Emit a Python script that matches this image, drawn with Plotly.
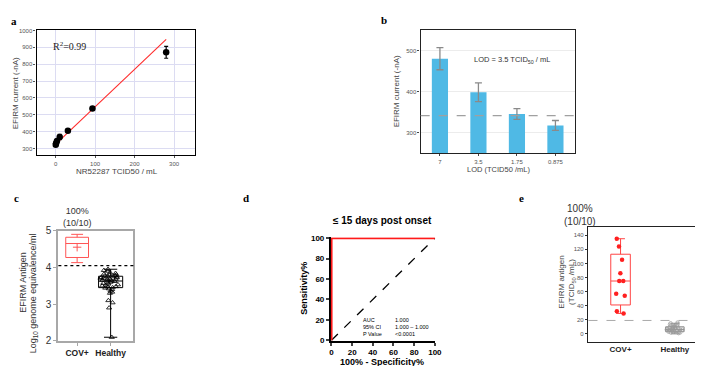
import plotly.graph_objects as go

W, H = 703, 366
def px(x): return x / W
def py(y): return 1 - y / H

SANS = "Liberation Sans, Arial, sans-serif"
SERIF = "Liberation Serif, Times New Roman, serif"

# ---------------- data ----------------
# Panel a: calibration
conc_a = [0.38, 1.15, 3.46, 10.4, 31.1, 93.3, 280]
current_a = [322, 331, 344, 368, 405, 537, 870]
err_a = [6, 6, 8, 15, 8, 8, 35]
fit_slope = 2.22
fit_intercept = 325
r2_label = "R<sup>2</sup>=0.99"

# Panel b: LOD bars
lod_labels = ["7", "3.5", "1.75", "0.875"]
lod_current = [481, 399, 346, 318]
lod_err = [27, 23, 13, 12]
lod_threshold = 342

# Panel c: log10 genome equivalence
c_cats = ["COV+", "Healthy"]
c_cov_q = [4.27, 4.65, 4.82]          # q1, median, q3
c_cov_fence = [4.13, 4.90]
c_cov_mean = 4.55
c_healthy_q = [3.45, 3.63, 3.76]
c_healthy_fence = [2.10, 3.95]
c_healthy_pts = [3.95, 3.92, 3.90, 3.86, 3.84, 3.82, 3.80, 3.80, 3.78, 3.77,
                 3.76, 3.75, 3.74, 3.73, 3.72, 3.71, 3.70, 3.69, 3.68, 3.67,
                 3.66, 3.65, 3.64, 3.63, 3.62, 3.60, 3.58, 3.57, 3.55, 3.53,
                 3.52, 3.50, 3.48, 3.47, 3.45, 3.44, 3.42, 3.40, 3.36, 3.33,
                 3.30, 3.10, 3.04, 2.90, 2.10]
c_cutoff = 4.05

# Panel d: ROC
roc_fpr = [0, 0, 100]
roc_tpr = [0, 100, 100]
chance_x = [0, 100]
chance_y = [0, 100]
roc_ticks = [0, 20, 40, 60, 80, 100]
roc_stat_names = ["AUC", "95% CI", "P Value"]
roc_stat_vals = ["1.000", "1.000 – 1.000", "<0.0001"]

# Panel e: TCID50 antigen
e_cats = ["COV+", "Healthy"]
e_cov_pts = [135, 124, 105, 86, 75, 75, 57, 54, 32, 29]
e_cov_q = [41, 75, 113]
e_cov_fence = [29, 135]
e_healthy_pts = [1, 2, 2, 3, 3, 3, 4, 4, 4, 5, 5, 5, 6, 6, 6, 6, 7, 7, 7, 8,
                 8, 8, 9, 9, 10, 10, 11, 11, 12, 13, 14, 15, 16]
e_healthy_q = [3, 6, 10]
e_healthy_fence = [0, 15]
e_cutoff = 19

# ---------------- figure ----------------
fig = go.Figure()

# Panel a
fig.add_trace(go.Scatter(
    x=[min(conc_a), max(conc_a)],
    y=[fit_intercept + fit_slope * min(conc_a), fit_intercept + fit_slope * max(conc_a)],
    mode="lines", line=dict(color="#ff2a2a", width=1.1),
    xaxis="x", yaxis="y", showlegend=False))
fig.add_trace(go.Scatter(
    x=conc_a, y=current_a, mode="markers",
    marker=dict(color="black", size=6.5),
    error_y=dict(type="data", array=err_a, color="black", thickness=1.2, width=2),
    xaxis="x", yaxis="y", showlegend=False))

# Panel b
fig.add_trace(go.Bar(
    x=lod_labels, y=lod_current, width=0.42,
    marker=dict(color="#4fb9e5", line=dict(width=0)),
    error_y=dict(type="data", array=lod_err, color="#8a8a8a", thickness=1.3, width=3.5),
    xaxis="x2", yaxis="y2", showlegend=False))

# Panel c
fig.add_trace(go.Box(
    x=[0], q1=[c_cov_q[0]], median=[c_cov_q[1]], q3=[c_cov_q[2]],
    lowerfence=[c_cov_fence[0]], upperfence=[c_cov_fence[1]],
    width=0.68, whiskerwidth=0.52, boxpoints=False,
    line=dict(color="#ff5555", width=1), fillcolor="rgba(0,0,0,0)",
    xaxis="x3", yaxis="y3", showlegend=False))
fig.add_trace(go.Scatter(
    x=[0], y=[c_cov_mean], mode="markers",
    marker=dict(symbol="cross-thin", size=6, line=dict(color="#ff5555", width=1)),
    xaxis="x3", yaxis="y3", showlegend=False))
fig.add_trace(go.Box(
    x=[1], q1=[c_healthy_q[0]], median=[c_healthy_q[1]], q3=[c_healthy_q[2]],
    lowerfence=[c_healthy_fence[0]], upperfence=[c_healthy_fence[1]],
    width=0.72, whiskerwidth=0.55, boxpoints=False,
    line=dict(color="black", width=1), fillcolor="rgba(0,0,0,0)",
    xaxis="x3", yaxis="y3", showlegend=False))
fig.add_trace(go.Box(
    x=[1] * len(c_healthy_pts), y=c_healthy_pts, boxpoints="all", jitter=0.9,
    pointpos=0, width=0.72, line=dict(width=0), fillcolor="rgba(0,0,0,0)",
    marker=dict(symbol="triangle-up-open", size=4.5, color="black",
                line=dict(width=0.8, color="black")),
    xaxis="x3", yaxis="y3", showlegend=False))

# Panel d
fig.add_trace(go.Scatter(
    x=chance_x, y=chance_y, mode="lines",
    line=dict(color="black", width=1.3, dash="dash"),
    xaxis="x4", yaxis="y4", showlegend=False))
fig.add_trace(go.Scatter(
    x=roc_fpr, y=roc_tpr, mode="lines",
    line=dict(color="#ff1a1a", width=2.2),
    xaxis="x4", yaxis="y4", showlegend=False))

# Panel e
fig.add_trace(go.Box(
    x=[0], q1=[e_cov_q[0]], median=[e_cov_q[1]], q3=[e_cov_q[2]],
    lowerfence=[e_cov_fence[0]], upperfence=[e_cov_fence[1]],
    width=0.36, whiskerwidth=0.45, boxpoints=False,
    line=dict(color="#ff4444", width=1), fillcolor="rgba(0,0,0,0)",
    xaxis="x5", yaxis="y5", showlegend=False))
fig.add_trace(go.Box(
    x=[0] * len(e_cov_pts), y=e_cov_pts, boxpoints="all", jitter=0.6,
    pointpos=0, width=0.36, line=dict(width=0), fillcolor="rgba(0,0,0,0)",
    marker=dict(symbol="circle", size=4.5, color="#ff2020"),
    xaxis="x5", yaxis="y5", showlegend=False))
fig.add_trace(go.Box(
    x=[1], q1=[e_healthy_q[0]], median=[e_healthy_q[1]], q3=[e_healthy_q[2]],
    lowerfence=[e_healthy_fence[0]], upperfence=[e_healthy_fence[1]],
    width=0.34, whiskerwidth=0.45, boxpoints=False,
    line=dict(color="#888888", width=1), fillcolor="rgba(0,0,0,0)",
    xaxis="x5", yaxis="y5", showlegend=False))
fig.add_trace(go.Box(
    x=[1] * len(e_healthy_pts), y=e_healthy_pts, boxpoints="all", jitter=0.9,
    pointpos=0, width=0.34, line=dict(width=0), fillcolor="rgba(0,0,0,0)",
    marker=dict(symbol="circle-open", size=3.5, color="#999999",
                line=dict(width=0.7, color="#999999")),
    xaxis="x5", yaxis="y5", showlegend=False))

tick_small = dict(family=SANS, size=6, color="#555555")

layout = dict(
    width=W, height=H, margin=dict(l=0, r=0, t=0, b=0),
    paper_bgcolor="white", plot_bgcolor="white",
    font=dict(family=SANS), showlegend=False, boxmode="overlay",
    # panel a
    xaxis=dict(domain=[px(27), px(187)], anchor="y", range=[-48, 352],
               tickvals=[0, 100, 200, 300], showgrid=True, gridcolor="#dcdcf2",
               gridwidth=0.8, zeroline=False, showline=True, mirror=True,
               linecolor="black", linewidth=1.4, ticks="outside", ticklen=2,
               tickcolor="#555", tickfont=tick_small),
    yaxis=dict(domain=[py(146), py(17)], anchor="x", range=[260, 1000],
               dtick=100, showgrid=True, gridcolor="#dcdcf2", gridwidth=0.8,
               zeroline=False, showline=True, mirror=True, linecolor="black",
               linewidth=1.4, ticks="outside", ticklen=2, tickcolor="#555",
               tickfont=tick_small),
    # panel b
    xaxis2=dict(domain=[px(416), px(572)], anchor="y2", type="category",
                showgrid=False, showline=True, mirror=True, linecolor="#222",
                linewidth=1.4, ticks="outside", ticklen=2, tickcolor="#444",
                tickfont=tick_small),
    yaxis2=dict(domain=[py(144), py(17)], anchor="x2", range=[250, 550],
                dtick=100, showgrid=True, gridcolor="#ececec", zeroline=False,
                showline=True, mirror=True, linecolor="#222", linewidth=1.4,
                ticks="outside", ticklen=2, tickcolor="#444", tickfont=tick_small),
    # panel c
    xaxis3=dict(domain=[px(49), px(125)], anchor="y3", range=[-0.56, 1.68],
                tickvals=[0, 1], ticktext=["<b>%s</b>" % c for c in c_cats],
                showgrid=False, zeroline=False, showline=True, mirror=True,
                linecolor="#a8a8a8", linewidth=2, ticks="outside", ticklen=3,
                tickcolor="#a8a8a8",
                tickfont=dict(family=SANS, size=8.5, color="#222")),
    yaxis3=dict(domain=[py(338), py(224)], anchor="x3", range=[2, 5], dtick=1,
                showgrid=False, zeroline=False, showline=True, mirror=True,
                linecolor="#a8a8a8", linewidth=2, ticks="outside", ticklen=3,
                tickcolor="#a8a8a8",
                tickfont=dict(family=SANS, size=10, color="#333")),
    # panel d
    xaxis4=dict(domain=[px(325), px(431)], anchor="y4", range=[-0.6, 100.6],
                tickvals=roc_ticks, ticktext=["<b>%d</b>" % v for v in roc_ticks],
                showgrid=False, zeroline=False, showline=True, linecolor="black",
                linewidth=1.8, ticks="outside", ticklen=3, tickwidth=1.5,
                layer="below traces",
                tickfont=dict(family=SANS, size=8, color="black")),
    yaxis4=dict(domain=[py(338), py(231)], anchor="x4", range=[-0.6, 100.8],
                tickvals=roc_ticks, ticktext=["<b>%d</b>" % v for v in roc_ticks],
                showgrid=False, zeroline=False, showline=True, linecolor="black",
                linewidth=1.8, ticks="outside", ticklen=3, tickwidth=1.5,
                layer="below traces",
                tickfont=dict(family=SANS, size=8, color="black")),
    # panel e
    xaxis5=dict(domain=[px(586), px(701)], anchor="y5", range=[-0.59, 1.5],
                tickvals=[0, 1], ticktext=["<b>%s</b>" % c for c in e_cats],
                showgrid=False, zeroline=False, showline=True, mirror=True,
                linecolor="#222", linewidth=1.3, ticks="",
                tickfont=dict(family=SANS, size=8, color="#222")),
    yaxis5=dict(domain=[py(338.7), py(220.7)], anchor="x5", range=[-11, 151],
                dtick=20, showgrid=False, zeroline=False, showline=True,
                mirror="ticks", linecolor="#222", linewidth=1.3, ticks="outside",
                ticklen=2.5, tickcolor="#333", tickfont=tick_small),
)
fig.update_layout(**layout)

shapes = [
    dict(type="line", xref="x2 domain", yref="y2", x0=0, x1=1,
         y0=lod_threshold, y1=lod_threshold,
         line=dict(color="#a0a0a0", width=1.1, dash="dash")),
    dict(type="line", xref="x3 domain", yref="y3", x0=0, x1=1,
         y0=c_cutoff, y1=c_cutoff, line=dict(color="black", width=1.2, dash="dot")),
    dict(type="line", xref="x5 domain", yref="y5", x0=0, x1=1,
         y0=e_cutoff, y1=e_cutoff, line=dict(color="#aaaaaa", width=1, dash="dash")),
]
fig.update_layout(shapes=shapes)

ann = []
def add_text(x, y, text, size, color="#333", family=SANS, angle=0, xanchor="center", yanchor="middle"):
    ann.append(dict(x=px(x), y=py(y), xref="paper", yref="paper", text=text,
                    showarrow=False, textangle=angle, xanchor=xanchor, yanchor=yanchor,
                    font=dict(family=family, size=size, color=color)))

# panel labels
add_text(4, 7, "<b>a</b>", 11, "black", SERIF)
add_text(379, 6, "<b>b</b>", 11, "black", SERIF)
add_text(7, 190, "<b>c</b>", 11, "black", SERIF)
add_text(239, 190, "<b>d</b>", 11, "black", SERIF)
add_text(518, 190, "<b>e</b>", 11, "black", SERIF)

# panel a texts
add_text(42, 33, r2_label, 10, "#222", SERIF, xanchor="left")
add_text(5, 82, "EFIRM current (-nA)", 8, "#444", angle=-90)
add_text(108, 163, "NR52287 TCID50 / mL", 8, "#444")

# panel b texts
add_text(509, 48, "LOD = 3.5 TCID<sub>50</sub> / mL", 7.5, "#333")
add_text(391, 80, "EFIRM current (-nA)", 8, "#444", angle=-90)
add_text(495, 161, "LOD (TCID50 /mL)", 7.5, "#444")

# panel c texts
add_text(68, 210, "100%<br>(10/10)", 9, "#333")
add_text(13, 277, "EFIRM Antigen", 9, "#333", angle=-90)
add_text(24, 289, "Log<sub>10</sub> genome equivalence/ml", 9, "#333", angle=-90)

# panel d texts
add_text(377, 213, "<b>≤ 15 days post onset</b>", 10, "black")
add_text(298, 284, "<b>Sensitivity%</b>", 9, "black", angle=-90)
add_text(377, 360, "<b>100% - Specificity%</b>", 9, "black")
for i, (n, v) in enumerate(zip(roc_stat_names, roc_stat_vals)):
    add_text(355.5, 316.5 + 7 * i, n, 5.5, "black", xanchor="left")
    add_text(388, 316.5 + 7 * i, v, 5.5, "black", xanchor="left")

# panel e texts
add_text(577, 208, "100%<br>(10/10)", 10, "#333")
add_text(564, 277, "EFIRM antigen<br>(TCID<sub>50</sub> /mL)", 8, "#444", angle=-90)

fig.update_layout(annotations=ann)

fig.write_html("out.html")
